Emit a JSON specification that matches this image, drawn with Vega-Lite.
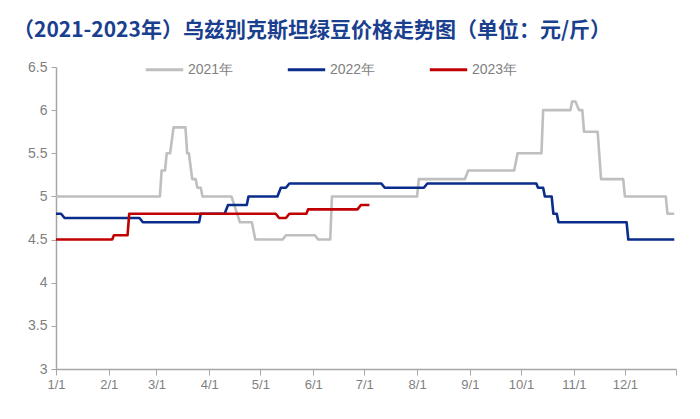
{
  "$schema": "https://vega.github.io/schema/vega-lite/v6.json",
  "width": 620,
  "height": 302,
  "autosize": {"type": "none"},
  "padding": {"left": 56, "top": 67, "right": 24, "bottom": 50},
  "background": "white",
  "title": {
    "text": "（2021-2023年）乌兹别克斯坦绿豆价格走势图（单位：元/斤）",
    "font": "Noto Sans CJK SC",
    "fontSize": 21,
    "fontWeight": "bold",
    "color": "#1A3F8F",
    "anchor": "start",
    "frame": "group",
    "dx": -43,
    "offset": 8
  },
  "config": {
    "view": {"stroke": null},
    "font": "Liberation Sans"
  },
  "data": {
    "values": [
      {"date": "2021/01/01", "price": 5.0, "year": "2021年"},
      {"date": "2021/03/03", "price": 5.0, "year": "2021年"},
      {"date": "2021/03/04", "price": 5.3, "year": "2021年"},
      {"date": "2021/03/06", "price": 5.3, "year": "2021年"},
      {"date": "2021/03/07", "price": 5.5, "year": "2021年"},
      {"date": "2021/03/09", "price": 5.5, "year": "2021年"},
      {"date": "2021/03/11", "price": 5.8, "year": "2021年"},
      {"date": "2021/03/18", "price": 5.8, "year": "2021年"},
      {"date": "2021/03/19", "price": 5.5, "year": "2021年"},
      {"date": "2021/03/20", "price": 5.5, "year": "2021年"},
      {"date": "2021/03/22", "price": 5.2, "year": "2021年"},
      {"date": "2021/03/24", "price": 5.2, "year": "2021年"},
      {"date": "2021/03/25", "price": 5.1, "year": "2021年"},
      {"date": "2021/03/27", "price": 5.1, "year": "2021年"},
      {"date": "2021/03/28", "price": 5.0, "year": "2021年"},
      {"date": "2021/04/14", "price": 5.0, "year": "2021年"},
      {"date": "2021/04/19", "price": 4.7, "year": "2021年"},
      {"date": "2021/04/26", "price": 4.7, "year": "2021年"},
      {"date": "2021/04/28", "price": 4.5, "year": "2021年"},
      {"date": "2021/05/14", "price": 4.5, "year": "2021年"},
      {"date": "2021/05/16", "price": 4.55, "year": "2021年"},
      {"date": "2021/06/02", "price": 4.55, "year": "2021年"},
      {"date": "2021/06/04", "price": 4.5, "year": "2021年"},
      {"date": "2021/06/11", "price": 4.5, "year": "2021年"},
      {"date": "2021/06/12", "price": 5.0, "year": "2021年"},
      {"date": "2021/08/01", "price": 5.0, "year": "2021年"},
      {"date": "2021/08/02", "price": 5.2, "year": "2021年"},
      {"date": "2021/08/29", "price": 5.2, "year": "2021年"},
      {"date": "2021/08/31", "price": 5.3, "year": "2021年"},
      {"date": "2021/09/27", "price": 5.3, "year": "2021年"},
      {"date": "2021/09/29", "price": 5.5, "year": "2021年"},
      {"date": "2021/10/13", "price": 5.5, "year": "2021年"},
      {"date": "2021/10/14", "price": 6.0, "year": "2021年"},
      {"date": "2021/10/30", "price": 6.0, "year": "2021年"},
      {"date": "2021/10/31", "price": 6.1, "year": "2021年"},
      {"date": "2021/11/02", "price": 6.1, "year": "2021年"},
      {"date": "2021/11/04", "price": 6.0, "year": "2021年"},
      {"date": "2021/11/06", "price": 6.0, "year": "2021年"},
      {"date": "2021/11/07", "price": 5.75, "year": "2021年"},
      {"date": "2021/11/15", "price": 5.75, "year": "2021年"},
      {"date": "2021/11/17", "price": 5.2, "year": "2021年"},
      {"date": "2021/11/30", "price": 5.2, "year": "2021年"},
      {"date": "2021/12/01", "price": 5.0, "year": "2021年"},
      {"date": "2021/12/25", "price": 5.0, "year": "2021年"},
      {"date": "2021/12/26", "price": 4.8, "year": "2021年"},
      {"date": "2021/12/30", "price": 4.8, "year": "2021年"},

      {"date": "2021/01/01", "price": 4.8, "year": "2022年"},
      {"date": "2021/01/04", "price": 4.8, "year": "2022年"},
      {"date": "2021/01/06", "price": 4.75, "year": "2022年"},
      {"date": "2021/02/19", "price": 4.75, "year": "2022年"},
      {"date": "2021/02/21", "price": 4.7, "year": "2022年"},
      {"date": "2021/03/26", "price": 4.7, "year": "2022年"},
      {"date": "2021/03/27", "price": 4.8, "year": "2022年"},
      {"date": "2021/04/10", "price": 4.8, "year": "2022年"},
      {"date": "2021/04/12", "price": 4.9, "year": "2022年"},
      {"date": "2021/04/23", "price": 4.9, "year": "2022年"},
      {"date": "2021/04/24", "price": 5.0, "year": "2022年"},
      {"date": "2021/05/11", "price": 5.0, "year": "2022年"},
      {"date": "2021/05/13", "price": 5.1, "year": "2022年"},
      {"date": "2021/05/16", "price": 5.1, "year": "2022年"},
      {"date": "2021/05/18", "price": 5.15, "year": "2022年"},
      {"date": "2021/07/11", "price": 5.15, "year": "2022年"},
      {"date": "2021/07/13", "price": 5.1, "year": "2022年"},
      {"date": "2021/08/05", "price": 5.1, "year": "2022年"},
      {"date": "2021/08/07", "price": 5.15, "year": "2022年"},
      {"date": "2021/10/10", "price": 5.15, "year": "2022年"},
      {"date": "2021/10/11", "price": 5.1, "year": "2022年"},
      {"date": "2021/10/14", "price": 5.1, "year": "2022年"},
      {"date": "2021/10/15", "price": 5.0, "year": "2022年"},
      {"date": "2021/10/19", "price": 5.0, "year": "2022年"},
      {"date": "2021/10/20", "price": 4.8, "year": "2022年"},
      {"date": "2021/10/22", "price": 4.8, "year": "2022年"},
      {"date": "2021/10/23", "price": 4.7, "year": "2022年"},
      {"date": "2021/12/02", "price": 4.7, "year": "2022年"},
      {"date": "2021/12/03", "price": 4.5, "year": "2022年"},
      {"date": "2021/12/30", "price": 4.5, "year": "2022年"},

      {"date": "2021/01/01", "price": 4.5, "year": "2023年"},
      {"date": "2021/02/03", "price": 4.5, "year": "2023年"},
      {"date": "2021/02/04", "price": 4.55, "year": "2023年"},
      {"date": "2021/02/12", "price": 4.55, "year": "2023年"},
      {"date": "2021/02/13", "price": 4.8, "year": "2023年"},
      {"date": "2021/05/10", "price": 4.8, "year": "2023年"},
      {"date": "2021/05/12", "price": 4.75, "year": "2023年"},
      {"date": "2021/05/16", "price": 4.75, "year": "2023年"},
      {"date": "2021/05/18", "price": 4.8, "year": "2023年"},
      {"date": "2021/05/28", "price": 4.8, "year": "2023年"},
      {"date": "2021/05/29", "price": 4.85, "year": "2023年"},
      {"date": "2021/06/27", "price": 4.85, "year": "2023年"},
      {"date": "2021/06/29", "price": 4.9, "year": "2023年"},
      {"date": "2021/07/04", "price": 4.9, "year": "2023年"}
    ]
  },
  "mark": {"type": "line", "strokeWidth": 2.6, "strokeJoin": "round"},
  "encoding": {
    "x": {
      "field": "date",
      "type": "temporal",
      "scale": {"domain": [{"year": 2021, "month": 1, "date": 1}, {"year": 2021, "month": 12, "date": 31}]},
      "axis": {
        "title": null,
        "grid": false,
        "values": [
          {"year": 2021, "month": 1, "date": 1},
          {"year": 2021, "month": 2, "date": 1},
          {"year": 2021, "month": 3, "date": 1},
          {"year": 2021, "month": 4, "date": 1},
          {"year": 2021, "month": 5, "date": 1},
          {"year": 2021, "month": 6, "date": 1},
          {"year": 2021, "month": 7, "date": 1},
          {"year": 2021, "month": 8, "date": 1},
          {"year": 2021, "month": 9, "date": 1},
          {"year": 2021, "month": 10, "date": 1},
          {"year": 2021, "month": 11, "date": 1},
          {"year": 2021, "month": 12, "date": 1},
          {"year": 2021, "month": 12, "date": 31}
        ],
        "labelExpr": "month(datum.value) == 11 && date(datum.value) == 31 ? '' : timeFormat(datum.value, '%-m/%-d')",
        "labelFont": "Liberation Sans",
        "labelFontSize": 13,
        "labelColor": "#7F7F7F",
        "labelPadding": 3,
        "labelFlush": false,
        "domainColor": "#A6A6A6",
        "domainWidth": 1.5,
        "tickColor": "#A6A6A6",
        "tickSize": 6,
        "tickWidth": 1
      }
    },
    "y": {
      "field": "price",
      "type": "quantitative",
      "scale": {"domain": [3, 6.5], "nice": false, "zero": false},
      "axis": {
        "title": null,
        "grid": false,
        "values": [3, 3.5, 4, 4.5, 5, 5.5, 6, 6.5],
        "format": ".1~f",
        "labelFont": "Liberation Sans",
        "labelFontSize": 14,
        "labelColor": "#7F7F7F",
        "labelPadding": 4,
        "labelFlush": false,
        "domainColor": "#A6A6A6",
        "domainWidth": 1.5,
        "tickColor": "#A6A6A6",
        "tickSize": 5
      }
    },
    "color": {
      "field": "year",
      "type": "nominal",
      "scale": {"domain": ["2021年", "2022年", "2023年"], "range": ["#BFBFBF", "#0A2D8C", "#C00000"]},
      "legend": {
        "title": null,
        "orient": "none",
        "legendX": 88,
        "legendY": -18,
        "direction": "horizontal",
        "columns": 3,
        "symbolType": "stroke",
        "symbolSize": 1400,
        "symbolStrokeWidth": 3,
        "labelFont": "Liberation Sans",
        "labelFontSize": 14,
        "labelColor": "#7F7F7F",
        "labelOffset": 3,
        "columnPadding": 47
      }
    }
  }
}
